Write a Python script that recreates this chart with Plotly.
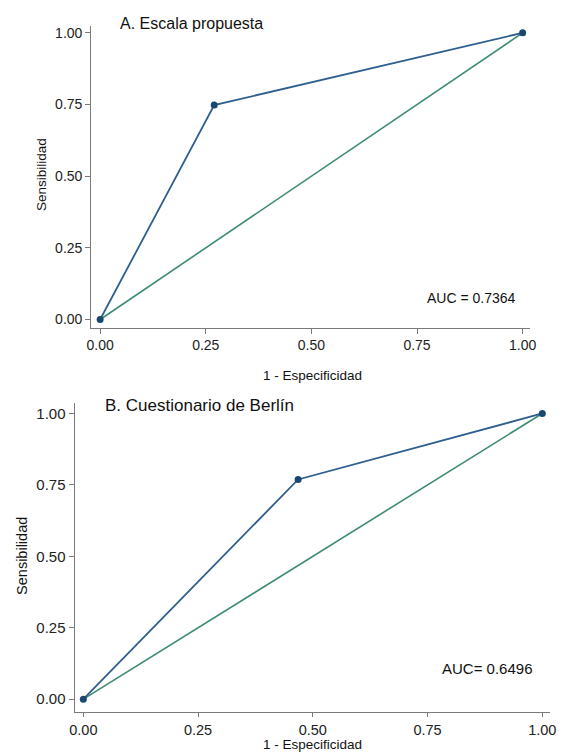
import plotly.graph_objects as go

# ---- data ----
fpr_a = [0.0, 0.270, 1.0]
tpr_a = [0.0, 0.748, 1.0]
fpr_b = [0.0, 0.468, 1.0]
tpr_b = [0.0, 0.769, 1.0]
ref_line = [0.0, 1.0]
tick_vals = [0.0, 0.25, 0.50, 0.75, 1.0]
tick_text = ["0.00", "0.25", "0.50", "0.75", "1.00"]
title_a = "A. Escala propuesta"
title_b = "B. Cuestionario de Berlín"
auc_a = "AUC = 0.7364"
auc_b = "AUC= 0.6496"
xlab = "1 - Especificidad"
ylab = "Sensibilidad"

W, H = 561, 752
FONT = "Arial, Liberation Sans, sans-serif"
ROC_COL = "#2f5f8e"
MK_COL = "#1a476f"
REF_COL = "#3c8c74"
AX_COL = "#7a7a7a"

def px(x):
    return x / W

def py(y):
    return 1 - y / H

fig = go.Figure()

for xa, ya, fx, ty in [("x", "y", fpr_a, tpr_a), ("x2", "y2", fpr_b, tpr_b)]:
    fig.add_trace(go.Scatter(x=ref_line, y=ref_line, mode="lines",
                             line=dict(color=REF_COL, width=1.6),
                             xaxis=xa, yaxis=ya, showlegend=False, hoverinfo="skip"))
    fig.add_trace(go.Scatter(x=fx, y=ty, mode="lines+markers",
                             line=dict(color=ROC_COL, width=1.8),
                             marker=dict(color=MK_COL, size=7),
                             xaxis=xa, yaxis=ya, showlegend=False))

def axis_common(fs, tl=5):
    return dict(showline=True, linecolor=AX_COL, linewidth=1.2, mirror=False,
                ticks="outside", ticklen=tl, tickcolor=AX_COL, tickwidth=1.2,
                showgrid=False, zeroline=False, tickvals=tick_vals, ticktext=tick_text,
                tickfont=dict(family=FONT, size=fs, color="#222222"), fixedrange=True)

fig.update_layout(
    width=W, height=H, margin=dict(l=0, r=0, t=0, b=0),
    paper_bgcolor="white", plot_bgcolor="white",
    xaxis=dict(domain=[px(88), px(536)], range=[-0.021, 1.0186], anchor="y",
               **axis_common(14)),
    yaxis=dict(domain=[py(327), py(25)], range=[-0.028, 1.024], anchor="x",
               **axis_common(14)),
    xaxis2=dict(domain=[px(71), px(556)], range=[-0.019, 1.017], anchor="y2",
                **axis_common(14.5, tl=4)),
    yaxis2=dict(domain=[py(712), py(403)], range=[-0.045, 1.035], anchor="x2",
                **axis_common(15)),
)

def ann(text, x, y, size, xanchor="center", angle=0):
    fig.add_annotation(text=text, x=px(x), y=py(y), xref="paper", yref="paper",
                       showarrow=False, xanchor=xanchor, yanchor="middle",
                       textangle=angle,
                       font=dict(family=FONT, size=size, color="#111111"))

ann(title_a, 115, 23, 16, xanchor="left")
ann(title_b, 100, 405, 17, xanchor="left")
ann(auc_a, 476, 297, 14)
ann(auc_b, 492, 668, 15)
ann(xlab, 314, 375, 13.5)
ann(xlab, 314, 744, 13.5)
ann(ylab, 37, 174, 13.5, angle=-90)
ann(ylab, 18, 556, 14.5, angle=-90)

fig.write_html("out.html")
